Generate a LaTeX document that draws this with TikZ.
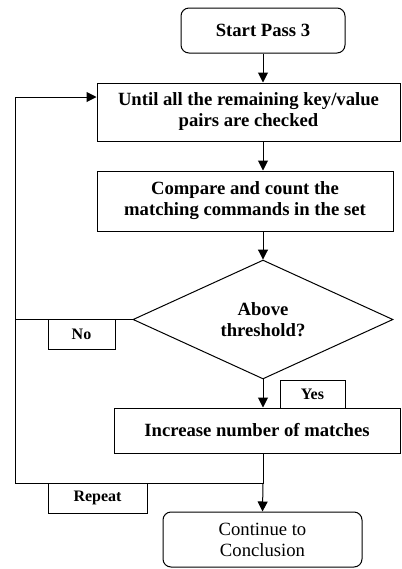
\documentclass[tikz,border=0pt]{standalone}
\usepackage{fontspec}
\setmainfont{Liberation Serif}
\usetikzlibrary{arrows.meta,shapes.geometric}

\begin{document}
\begin{tikzpicture}[x=0.75pt,y=-0.75pt,line width=0.75pt,
	box/.style={draw,rectangle,inner sep=0pt,align=center,font=\fontsize{14}{15.75}\selectfont\bfseries},
	term/.style={box,rounded corners=6pt},
	tag/.style={draw,rectangle,inner sep=0pt,font=\fontsize{12}{14}\selectfont\bfseries},
	arr/.style={-{Triangle[length=7.5pt,width=7.5pt]}}]
	\useasboundingbox (0, 0) rectangle (401, 569);
	\node[term,minimum width=123pt,minimum height=33.75pt] (start) at (263, 30.5) {Start Pass 3};
	\node[box,minimum width=227.25pt,minimum height=43.5pt] (until) at (248.5, 112) {Until all the remaining key/value\\pairs are checked};
	\node[box,minimum width=222pt,minimum height=45pt] (compare) at (245, 201) {Compare and count the\\matching commands in the set};
	\node[box,diamond,minimum width=195pt,minimum height=87.75pt] (dia) at (263, 319.5) {Above\\threshold?};
	\node[box,minimum width=214.5pt,minimum height=33.75pt] (incr) at (257, 430.5) {Increase number of matches};
	\node[term,minimum width=149.25pt,minimum height=41.25pt,font=\fontsize{14}{15.75}\selectfont] (cont) at (262.5, 539.5) {Continue to\\Conclusion};
	\node[tag,minimum width=50.25pt,minimum height=22.5pt] (no) at (81.5, 334) {No};
	\node[tag,minimum width=48.75pt,minimum height=21pt] (yes) at (312.5, 394) {Yes};
	\node[tag,minimum width=74.25pt,minimum height=22.5pt] (rep) at (97.5, 498) {Repeat};
	\coordinate (join) at (263, 483);
	\coordinate (lbot) at (15, 483);
	\coordinate (ltop) at (15, 97);
	\draw[arr] (start.south) -- (start.south |- until.north);
	\draw[arr] (dia.north |- until.south) -- (dia.north |- compare.north);
	\draw[arr] (dia.north |- compare.south) -- (dia.north);
	\draw[arr] (dia.south) -- (dia.south |- incr.north);
	\draw (dia.south |- incr.south) -- (join) -- (lbot) -- (ltop);
	\draw[arr] (ltop) -- (ltop -| until.west);
	\draw (dia.west) -- (dia.west -| lbot);
	\draw[arr] (join) -- (cont.north);
\end{tikzpicture}
\end{document}
